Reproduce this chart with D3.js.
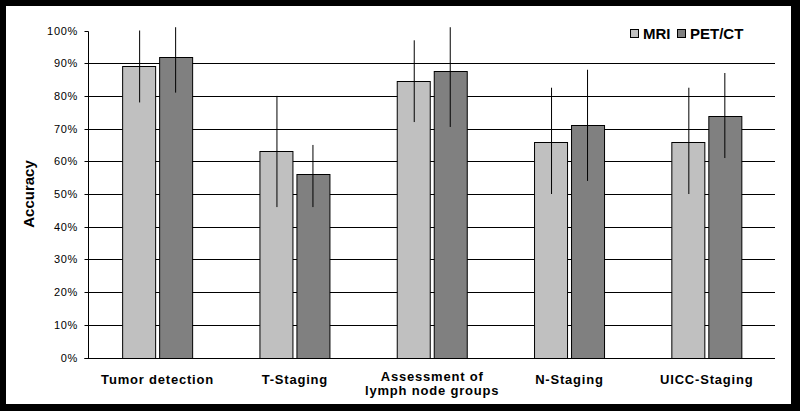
<!DOCTYPE html>
<html><head><meta charset="utf-8">
<script src="https://cdn.jsdelivr.net/npm/d3@7"></script>
<style>
html,body{margin:0;padding:0;background:#000;}
svg{display:block;}
text{font-family:"Liberation Sans",Arial,sans-serif;fill:#000;}
</style></head>
<body>
<svg id="c" width="800" height="411"></svg>
<script>
const categories = ["Tumor detection", "T-Staging", "Assessment of\nlymph node groups", "N-Staging", "UICC-Staging"];
const seriesNames = ["MRI", "PET/CT"];
const mriValues = [89, 63, 84.5, 66, 66];
const petValues = [92, 56, 87.5, 71, 74];
const mriLow = [78, 46, 72, 50, 50];
const mriHigh = [100, 80, 97, 82.5, 82.5];
const petLow = [81, 46, 70.5, 54, 61];
const petHigh = [101, 65, 101, 88, 87];
const yTicks = [0, 10, 20, 30, 40, 50, 60, 70, 80, 90, 100];

const colors = {"MRI": "#c0c0c0", "PET/CT": "#808080"};

const svg = d3.select("#c");
svg.append("rect").attr("x", 6).attr("y", 6).attr("width", 785).attr("height", 398).attr("fill", "#fff");

const plotLeft = 88.5, plotRight = 775, plotTop = 30.5, plotBottom = 357.5;
const y = d3.scaleLinear().domain([0, 100]).range([plotBottom, plotTop]);
const x = d3.scaleBand().domain(categories).range([plotLeft, plotRight]).paddingInner(0.49).paddingOuter(0.245);
const xs = d3.scaleBand().domain(seriesNames).range([0, x.bandwidth()]).paddingInner(0.1);

// gridlines
svg.append("g").selectAll("line").data(yTicks.filter(t => t > 0 && t < 100)).join("line")
  .attr("x1", plotLeft).attr("x2", plotRight)
  .attr("y1", d => Math.round(y(d)) + 0.5).attr("y2", d => Math.round(y(d)) + 0.5)
  .attr("stroke", "#000").attr("stroke-width", 1);

// y axis
const yAxis = d3.axisLeft(y).tickValues(yTicks).tickSize(4).tickPadding(6).tickFormat(d => d + "%");
const gy = svg.append("g").attr("transform", `translate(${plotLeft},0)`).call(yAxis);
gy.select(".domain").remove();
gy.selectAll(".tick").attr("transform", d => `translate(0,${Math.round(y(d)) + 0.5})`);
gy.selectAll(".tick line").attr("stroke", "#000");
gy.selectAll(".tick text").attr("font-size", "11px").style("letter-spacing", "0.7px")
  .attr("font-family", "'Liberation Sans',Arial,sans-serif").attr("fill", "#000").attr("x", -10.5);
svg.append("line").attr("x1", plotLeft).attr("x2", plotLeft).attr("y1", Math.round(y(100)) + 0.5).attr("y2", Math.round(y(0)) + 0.5)
  .attr("stroke", "#000");

// bars
const rows = categories.map((c, i) => ({c, vals: [
  {s: "MRI", v: mriValues[i], lo: mriLow[i], hi: mriHigh[i]},
  {s: "PET/CT", v: petValues[i], lo: petLow[i], hi: petHigh[i]}
]}));
const groups = svg.append("g").selectAll("g").data(rows).join("g")
  .attr("transform", d => `translate(${x(d.c)},0)`);
groups.selectAll("rect").data(d => d.vals).join("rect")
  .attr("x", d => Math.round(xs(d.s)) + 0.5)
  .attr("width", Math.round(xs.bandwidth()))
  .attr("y", d => Math.round(y(d.v)) + 0.5)
  .attr("height", d => Math.round(y(0)) - Math.round(y(d.v)))
  .attr("fill", d => colors[d.s]).attr("stroke", "#000").attr("stroke-width", 1);
groups.selectAll("line.err").data(d => d.vals).join("line").attr("class", "err")
  .attr("x1", d => Math.round(xs(d.s) + xs.bandwidth() / 2) + 0.5)
  .attr("x2", d => Math.round(xs(d.s) + xs.bandwidth() / 2) + 0.5)
  .attr("y1", d => y(d.lo)).attr("y2", d => y(d.hi))
  .attr("stroke", "#000").attr("stroke-width", 1);

// x axis line
svg.append("line").attr("x1", plotLeft - 4).attr("x2", plotRight).attr("y1", Math.round(y(0)) + 0.5).attr("y2", Math.round(y(0)) + 0.5)
  .attr("stroke", "#000");

// category labels
categories.forEach(c => {
  const lines = c.split("\n");
  const cx = x(c) + x.bandwidth() / 2;
  const baselines = lines.length === 1 ? [384] : [380.5, 395];
  lines.forEach((l, j) => {
    svg.append("text").attr("x", cx + 0.4).attr("y", baselines[j]).attr("text-anchor", "middle")
      .attr("font-size", "13px").attr("font-weight", "bold").style("letter-spacing", "0.8px").text(l);
  });
});

// y label
svg.append("text").attr("transform", "translate(33.5,194) rotate(-90)").attr("text-anchor", "middle")
  .attr("font-size", "15px").attr("font-weight", "bold").text("Accuracy");

// legend
const legend = svg.append("g");
const legendItems = [{s: "MRI", x: 630.5}, {s: "PET/CT", x: 677.5}];
legendItems.forEach(it => {
  legend.append("rect").attr("x", it.x).attr("y", 29.5).attr("width", 8).attr("height", 8)
    .attr("fill", colors[it.s]).attr("stroke", "#000");
  legend.append("text").attr("x", it.x + 12.5).attr("y", 39).attr("font-size", "15px").attr("font-weight", "bold").text(it.s);
});
</script>
</body></html>
